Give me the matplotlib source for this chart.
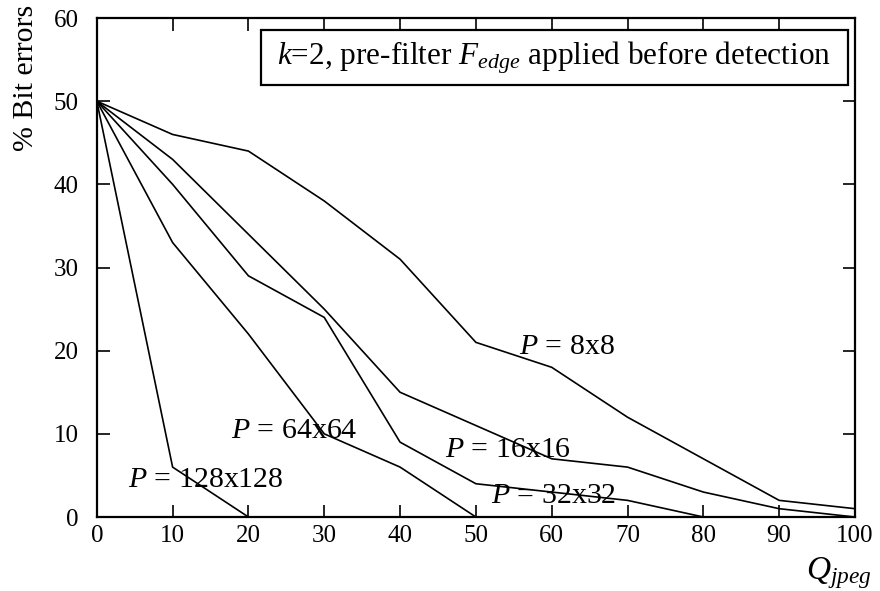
import matplotlib

matplotlib.use("Agg")
import matplotlib.pyplot as plt
from matplotlib.patches import Rectangle

plt.rcParams["font.family"] = ["Liberation Serif", "DejaVu Serif"]
plt.rcParams["mathtext.fontset"] = "custom"
plt.rcParams["mathtext.rm"] = "Liberation Serif"
plt.rcParams["mathtext.it"] = "Liberation Serif:italic"

Q = [0, 10, 20, 30, 40, 50, 60, 70, 80, 90, 100]
ERR_8 = [50, 46, 44, 38, 31, 21, 18, 12, 7, 2, 1]
ERR_16 = [50, 43, 34, 25, 15, 11, 7, 6, 3, 1, 0]
ERR_32 = [50, 40, 29, 24, 9, 4, 3, 2, 0]
ERR_64 = [50, 33, 22, 10, 6, 0]
ERR_128 = [50, 6, 0]

LABELS = [
    (r"$P$ = 8x8", 62.0, 20.4),
    (r"$P$ = 16x16", 54.2, 8.1),
    (r"$P$ = 32x32", 60.2, 2.5),
    (r"$P$ = 64x64", 26.1, 10.3),
    (r"$P$ = 128x128", 14.4, 4.5),
]

fig = plt.figure(figsize=(8.8, 5.91), dpi=100)
ax = fig.add_axes([0.110, 0.1252, 0.8616, 0.8443])

for ys in (ERR_8, ERR_16, ERR_32, ERR_64, ERR_128):
    ax.plot(Q[: len(ys)], ys, color="black", linewidth=1.2, solid_joinstyle="miter")

for text, x, y in LABELS:
    ax.text(x, y, text, fontsize=21.5, ha="center", va="center")

ax.set_xlim(0, 100)
ax.set_ylim(0, 60)
ax.set_xticks(range(0, 101, 10))
ax.set_yticks(range(0, 61, 10))
for side in ax.spines.values():
    side.set_linewidth(1.6)
ax.tick_params(direction="in", length=9, width=1.2, labelsize=18,
               top=True, right=True)
ax.tick_params(axis="x", pad=6)
ax.tick_params(axis="y", pad=13)

ax.add_patch(Rectangle((0.216, 0.866), 0.775, 0.110, transform=ax.transAxes,
                       fill=True, facecolor="white", edgecolor="black", linewidth=1.6, zorder=5))
ax.text(0.6035, 0.921, r"$k$=2, pre-filter $F_{edge}$ applied before detection",
        transform=ax.transAxes, fontsize=22.5, ha="center", va="center", zorder=6)

fig.text(26 / 880, 1 - 78 / 591, "% Bit errors", rotation=90, fontsize=21.5,
         ha="center", va="center")
fig.text(839 / 880, 1 - 573 / 591, r"$Q_{jpeg}$", fontsize=24, ha="center", va="center")

fig.savefig("out.png", dpi=100)
